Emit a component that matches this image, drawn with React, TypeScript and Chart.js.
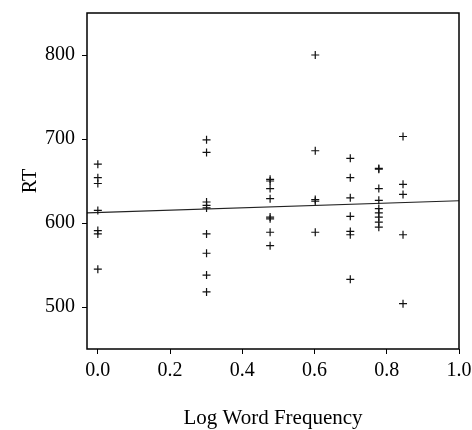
import React, { useEffect, useRef } from "react";
import { Chart, registerables } from "chart.js";

Chart.register(...registerables);

// Log word frequency levels (log10 of 1..7)
const logFreq = [0, 0.301, 0.477, 0.602, 0.699, 0.778, 0.845];

// Reaction times per frequency level
const rtFreq1 = [670, 654, 647, 615, 591, 587, 545];
const rtFreq2 = [699, 684, 625, 621, 618, 587, 564, 538, 518];
const rtFreq3 = [652, 650, 641, 629, 607, 605, 589, 573];
const rtFreq4 = [800, 686, 628, 626, 589];
const rtFreq5 = [677, 654, 630, 608, 590, 586, 533];
const rtFreq6 = [665, 664, 641, 627, 617, 612, 607, 601, 595];
const rtFreq7 = [703, 646, 634, 586, 504];

// Fitted regression line endpoints
const fitX = [-0.03, 1.0];
const fitY = [612, 626.5];

const xTicks = [0, 0.2, 0.4, 0.6, 0.8, 1.0];
const yTicks = [500, 600, 700, 800];

const FONT = "'Liberation Serif', 'Times New Roman', serif";

const boxPlugin = {
  id: "box",
  afterDraw(chart: any) {
    const { ctx, chartArea } = chart;
    ctx.save();
    ctx.strokeStyle = "#000";
    ctx.lineWidth = 1.5;
    ctx.strokeRect(
      chartArea.left,
      chartArea.top,
      chartArea.right - chartArea.left,
      chartArea.bottom - chartArea.top
    );
    ctx.restore();
  },
};

export default function App() {
  const ref = useRef<HTMLCanvasElement | null>(null);

  useEffect(() => {
    if (!ref.current) return;
    const groups = [rtFreq1, rtFreq2, rtFreq3, rtFreq4, rtFreq5, rtFreq6, rtFreq7];
    const points: { x: number; y: number }[] = [];
    groups.forEach((g, i) => g.forEach((v) => points.push({ x: logFreq[i], y: v })));
    const fit = fitX.map((x, i) => ({ x, y: fitY[i] }));

    const chart = new Chart(ref.current, {
      type: "scatter",
      data: {
        datasets: [
          {
            type: "scatter",
            data: points,
            pointStyle: "cross",
            pointRadius: 4,
            borderColor: "#111",
            backgroundColor: "#111",
            borderWidth: 1.2,
          } as any,
          {
            type: "line",
            data: fit,
            borderColor: "#222",
            borderWidth: 1.2,
            pointRadius: 0,
            fill: false,
          } as any,
        ],
      },
      plugins: [boxPlugin],
      options: {
        responsive: false,
        animation: false,
        layout: { autoPadding: false, padding: { top: 13, right: 13, left: 0, bottom: 0 } },
        plugins: { legend: { display: false }, tooltip: { enabled: false } },
        scales: {
          x: {
            type: "linear",
            min: -0.03,
            max: 1.0,
            afterBuildTicks: (s: any) => {
              s.ticks = xTicks.map((v) => ({ value: v }));
            },
            afterFit: (s: any) => {
              s.height = 81;
              s.paddingLeft = 0;
              s.paddingRight = 0;
            },
            ticks: {
              color: "#000",
              font: { family: FONT, size: 20 },
              padding: 5,
              maxRotation: 0,
              callback: (v: any) => Number(v).toFixed(1),
            },
            grid: { display: true, drawOnChartArea: false, drawTicks: true, tickLength: 5, color: "#000" },
            border: { display: false },
            title: {
              display: true,
              text: "Log Word Frequency",
              color: "#000",
              font: { family: FONT, size: 21, lineHeight: 1 },
              padding: { top: 0, bottom: 1 },
            },
          },
          y: {
            type: "linear",
            min: 450,
            max: 850,
            afterBuildTicks: (s: any) => {
              s.ticks = yTicks.map((v) => ({ value: v }));
            },
            afterFit: (s: any) => {
              s.width = 87;
              s.paddingTop = 0;
              s.paddingBottom = 0;
            },
            ticks: {
              color: "#000",
              font: { family: FONT, size: 20 },
              padding: 7,
            },
            grid: { display: true, drawOnChartArea: false, drawTicks: true, tickLength: 5, color: "#000" },
            border: { display: false },
            title: {
              display: true,
              text: "RT",
              color: "#000",
              font: { family: FONT, size: 20, lineHeight: 1 },
              padding: { top: 21, bottom: 0 },
            },
          },
        },
      } as any,
    });
    return () => chart.destroy();
  }, []);

  return (
    <div style={{ position: "absolute", left: 0, top: 0, width: 472, height: 430, background: "#fff" }}>
      <canvas ref={ref} width={472} height={430} style={{ width: 472, height: 430, display: "block" }} />
    </div>
  );
}
